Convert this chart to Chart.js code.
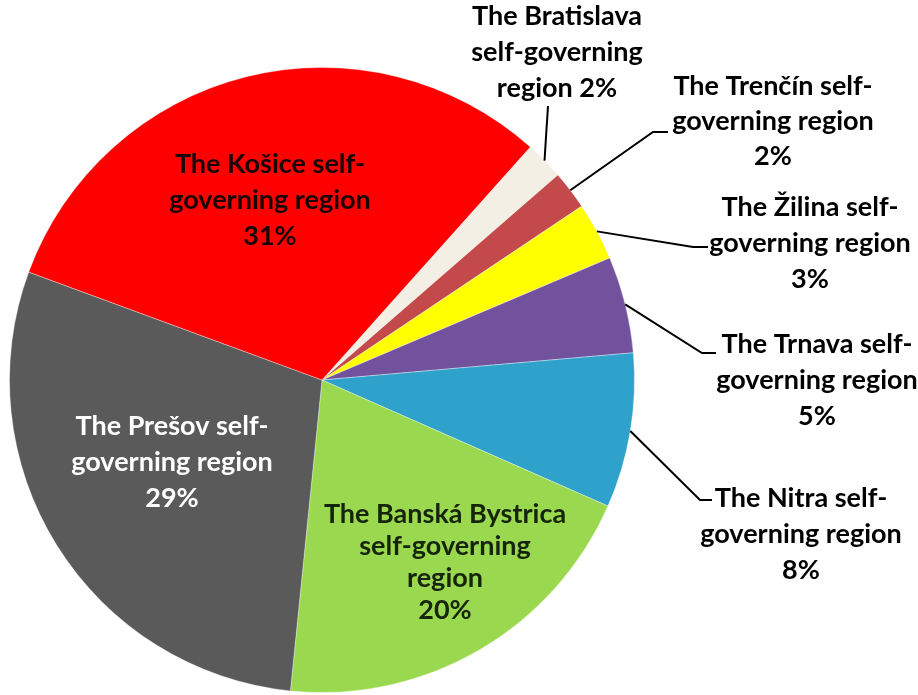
<!DOCTYPE html>
<html>
<head>
<meta charset="utf-8">
<script src="https://cdn.jsdelivr.net/npm/chart.js@4"></script>
<style>
  html, body { margin: 0; padding: 0; background: #ffffff; }
  #wrap { width: 918px; height: 695px; position: relative; }
</style>
</head>
<body>
<div id="wrap"><canvas id="c" width="918" height="695"></canvas></div>
<script>
// ---- data ----
const categories = [
  'The Bratislava self-governing region',
  'The Trenčín self-governing region',
  'The Žilina self-governing region',
  'The Trnava self-governing region',
  'The Nitra self-governing region',
  'The Banská Bystrica self-governing region',
  'The Prešov self-governing region',
  'The Košice self-governing region'
];
const values = [2, 2, 3, 5, 8, 20, 29, 31];
const sliceColors = ['#f4efe4', '#c3494a', '#ffff00', '#72529d', '#2fa2cb', '#9ad94f', '#5a5a5a', '#ff0000'];

// label text broken into lines (percent appended on the last line)
const labelLines = [
  ['The Bratislava', 'self-governing', 'region '],
  ['The Trenčín self-', 'governing region', ''],
  ['The Žilina self-', 'governing region', ''],
  ['The Trnava self-', 'governing region', ''],
  ['The Nitra self-', 'governing region', ''],
  ['The Banská Bystrica', 'self-governing', 'region', ''],
  ['The Prešov self-', 'governing region', ''],
  ['The Košice self-', 'governing region', '']
];

// ---- label layout (positions / styles) ----
const labelLayout = [
  { x: 557, y: 25, lh: 36, color: '#000', leader: [[548, 106]] },
  { x: 773, y: 95, lh: 35, color: '#000', leader: [[653, 132], [668, 132]] },
  { x: 810, y: 216, lh: 36, color: '#000', leader: [[693, 247], [708, 247]] },
  { x: 817, y: 353, lh: 36, color: '#000', leader: [[702, 353], [716, 353]] },
  { x: 801, y: 507, lh: 36, color: '#000', leader: [[700, 500], [712, 500]] },
  { x: 445, y: 523, lh: 32, color: '#16240a', leader: null },
  { x: 172, y: 435, lh: 36, color: '#ffffff', leader: null },
  { x: 270, y: 173, lh: 36, color: '#1a0505', leader: null }
];

const labelPlugin = {
  id: 'sliceLabels',
  afterDatasetsDraw(chart) {
    const ctx = chart.ctx;
    const meta = chart.getDatasetMeta(0);
    ctx.save();
    ctx.font = 'bold 27px Lato, "Open Sans", sans-serif';
    ctx.textAlign = 'center';
    ctx.textBaseline = 'alphabetic';
    meta.data.forEach((arc, i) => {
      const L = labelLayout[i];
      if (L.leader) {
        const mid = (arc.startAngle + arc.endAngle) / 2;
        const sx = arc.x + Math.cos(mid) * arc.outerRadius;
        const sy = arc.y + Math.sin(mid) * arc.outerRadius;
        ctx.beginPath();
        ctx.moveTo(sx, sy);
        L.leader.forEach(p => ctx.lineTo(p[0], p[1]));
        ctx.strokeStyle = '#000';
        ctx.lineWidth = 2;
        ctx.stroke();
      }
      const lines = labelLines[i].slice();
      lines[lines.length - 1] = lines[lines.length - 1] + values[i] + '%';
      ctx.fillStyle = L.color;
      lines.forEach((t, k) => ctx.fillText(t, L.x, L.y + k * L.lh));
    });
    ctx.restore();
  }
};

new Chart(document.getElementById('c'), {
  type: 'pie',
  data: {
    labels: categories,
    datasets: [{
      data: values,
      backgroundColor: sliceColors,
      borderColor: 'rgba(255,255,255,0.35)',
      borderWidth: 1
    }]
  },
  options: {
    responsive: false,
    devicePixelRatio: 1,
    animation: false,
    rotation: 41.8,
    layout: { padding: { left: 9, top: 67, right: 283, bottom: 2 } },
    plugins: {
      legend: { display: false },
      tooltip: { enabled: false }
    }
  },
  plugins: [labelPlugin]
});
</script>
</body>
</html>
